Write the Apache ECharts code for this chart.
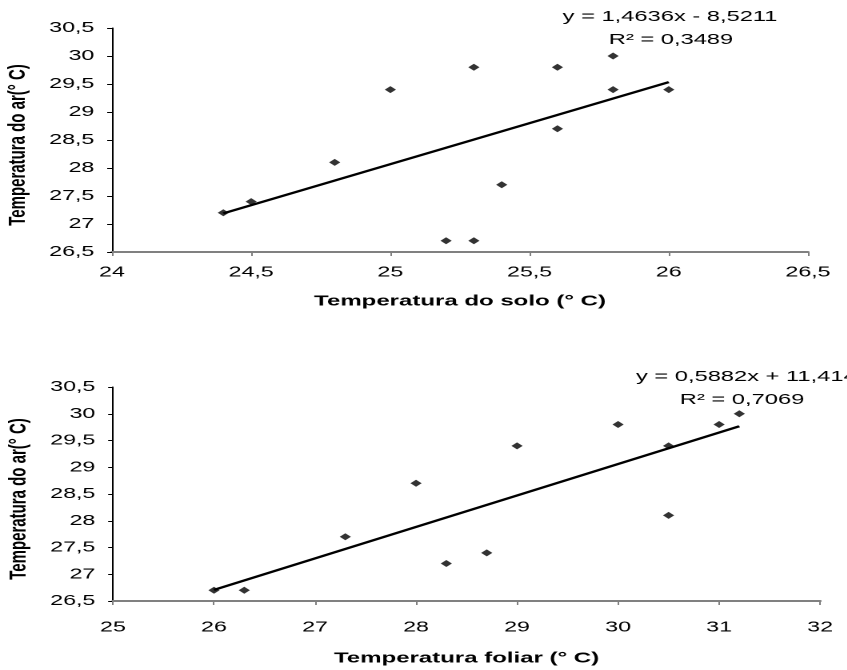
<!DOCTYPE html>
<html>
<head>
<meta charset="utf-8">
<script src="https://cdn.jsdelivr.net/npm/echarts@6/dist/echarts.min.js"></script>
<style>
  html, body { margin:0; padding:0; background:#ffffff; overflow:hidden; width:847px; height:670px; }
  #c { width:530px; height:670px; transform:scaleX(1.6); transform-origin:0 0; }
</style>
</head>
<body>
<div id="c"></div>
<script>
// ---- data ----
const soloX   = [24.4, 24.5, 24.8, 25.0, 25.2, 25.3, 25.3, 25.4, 25.6, 25.6, 25.8, 25.8, 26.0];
const soloY   = [27.2, 27.4, 28.1, 29.4, 26.7, 26.7, 29.8, 27.7, 29.8, 28.7, 30.0, 29.4, 29.4];
const foliarX = [26.0, 26.3, 27.3, 28.0, 28.3, 28.7, 29.0, 30.0, 30.5, 30.5, 31.0, 31.2];
const foliarY = [26.7, 26.7, 27.7, 28.7, 27.2, 27.4, 29.4, 29.8, 29.4, 28.1, 29.8, 30.0];
// linear trend: [slope, intercept] and x extent
const soloTrendCoef   = [1.4636, -8.5211];
const soloTrendX      = [24.4, 26.0];
const foliarTrendCoef = [0.5882, 11.414];
const foliarTrendX    = [26.0, 31.2];
// texts
const soloEq    = ['y = 1,4636x - 8,5211', 'R² = 0,3489'];
const foliarEq  = ['y = 0,5882x + 11,414', 'R² = 0,7069'];
const yName     = 'Temperatura do ar(° C)';
const xNameTop  = 'Temperatura do solo (° C)';
const xNameBot  = 'Temperatura foliar (° C)';

const zip = (xs, ys) => xs.map((x, i) => [x, ys[i]]);
const trend = (coef, xr) => xr.map(x => [x, coef[0] * x + coef[1]]);
const fmt = v => String(v).replace('.', ',');
const FONT = 'Liberation Sans, Arial, sans-serif';

function xAxisCfg(grid, min, max, interval, name, gap, margin) {
  return {
    type: 'value', gridIndex: grid, min, max, interval,
    name, nameLocation: 'middle', nameGap: gap,
    nameTextStyle: { fontFamily: FONT, fontSize: 15, fontWeight: 'bold', color: '#000' },
    axisLine: { show: true, onZero: false, lineStyle: { color: '#808080', width: 2 } },
    axisTick: { show: true, inside: false, length: 4, lineStyle: { color: '#808080', width: 1 } },
    axisLabel: { fontFamily: FONT, fontSize: 14.5, color: '#000', margin, formatter: fmt },
    splitLine: { show: false }
  };
}
function yAxisCfg(grid) {
  return {
    type: 'value', gridIndex: grid, min: 26.5, max: 30.5, interval: 0.5,
    name: yName, nameLocation: 'middle', nameGap: 51, nameRotate: 90,
    nameTextStyle: { fontFamily: FONT, fontSize: 15, fontWeight: 'bold', color: '#000', padding: [0, 10, 0, 0] },
    axisLine: { show: true, onZero: false, lineStyle: { color: '#000', width: 1 } },
    axisTick: { show: true, inside: false, length: 3, lineStyle: { color: '#000', width: 1 } },
    axisLabel: { fontFamily: FONT, fontSize: 14.5, color: '#000', margin: 11, formatter: fmt },
    splitLine: { show: false }
  };
}
const markerStyle = { color: '#000' };
const lineStyle = { color: '#000', width: 2.2 };
const eqStyle = { fontFamily: FONT, fontSize: 14.8, fill: '#000', verticalAlign: 'middle' };

const chart = echarts.init(document.getElementById('c'), null, { renderer: 'canvas', devicePixelRatio: 2 });
chart.setOption({
  backgroundColor: '#ffffff',
  animation: false,
  grid: [
    { left: 70, top: 28, width: 435, height: 224, containLabel: false, outerBoundsMode: 'none' },
    { left: 70.6, top: 387, width: 442, height: 214, containLabel: false, outerBoundsMode: 'none' }
  ],
  xAxis: [
    xAxisCfg(0, 24, 26.5, 0.5, xNameTop, 42, 13),
    xAxisCfg(1, 25, 32, 1, xNameBot, 50, 19)
  ],
  yAxis: [yAxisCfg(0), yAxisCfg(1)],
  series: [
    { type: 'line', xAxisIndex: 0, yAxisIndex: 0, data: trend(soloTrendCoef, soloTrendX),
      showSymbol: false, lineStyle, z: 2 },
    { type: 'scatter', xAxisIndex: 0, yAxisIndex: 0, data: zip(soloX, soloY),
      symbol: 'diamond', symbolSize: 7, itemStyle: markerStyle, z: 3 },
    { type: 'line', xAxisIndex: 1, yAxisIndex: 1, data: trend(foliarTrendCoef, foliarTrendX),
      showSymbol: false, lineStyle, z: 2 },
    { type: 'scatter', xAxisIndex: 1, yAxisIndex: 1, data: zip(foliarX, foliarY),
      symbol: 'diamond', symbolSize: 7, itemStyle: markerStyle, z: 3 }
  ],
  graphic: [
    { type: 'text', x: 418.8, y: 17, style: Object.assign({ text: soloEq[0], align: 'center' }, eqStyle) },
    { type: 'text', x: 419.4, y: 40, style: Object.assign({ text: soloEq[1], align: 'center' }, eqStyle) },
    { type: 'text', x: 397.5, y: 377, style: Object.assign({ text: foliarEq[0], align: 'left' }, eqStyle) },
    { type: 'text', x: 463.8, y: 400, style: Object.assign({ text: foliarEq[1], align: 'center' }, eqStyle) }
  ]
});
</script>
</body>
</html>
